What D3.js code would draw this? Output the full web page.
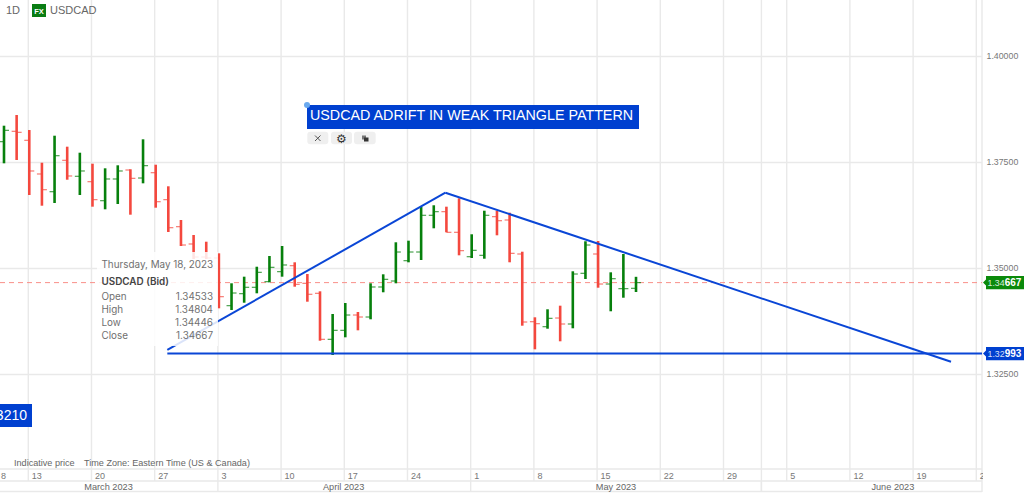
<!DOCTYPE html>
<html><head><meta charset="utf-8">
<script src="https://cdn.jsdelivr.net/npm/d3@7/dist/d3.min.js"></script>
<style>html,body{margin:0;padding:0;background:#fff;overflow:hidden}svg{display:block}</style>
</head><body><div id="chart"></div>
<script>
const open  = [1.37991,1.38236,1.38024,1.37229,1.36811,1.37552,1.37175,1.37047,1.36599,1.37111,1.37323,1.37134,1.37259,1.36623,1.35986,1.35578,1.35271,1.35248,1.34123,1.34406,1.34557,1.34689,1.34925,1.35066,1.34651,1.34415,1.33330,1.33542,1.33903,1.33856,1.34564,1.34705,1.35184,1.35389,1.36255,1.36340,1.35854,1.35278,1.35311,1.36222,1.36144,1.35342,1.33745,1.33627,1.33832,1.33691,1.34887,1.35342,1.34634,1.34524,1.34533];
const high  = [1.38368,1.38620,1.38266,1.37495,1.38132,1.37873,1.37731,1.37472,1.37363,1.37434,1.37340,1.38047,1.37448,1.36939,1.36144,1.35790,1.35632,1.35358,1.34651,1.34807,1.35042,1.35295,1.35531,1.35146,1.34870,1.34462,1.33927,1.34186,1.33974,1.34651,1.34863,1.35618,1.35656,1.36458,1.36491,1.36458,1.36656,1.35807,1.36363,1.36363,1.36316,1.35396,1.33849,1.34038,1.34123,1.34934,1.35642,1.35649,1.34910,1.35342,1.34804];
const low   = [1.37481,1.37559,1.36733,1.36481,1.36545,1.37094,1.36733,1.36458,1.36396,1.36521,1.36269,1.37009,1.36434,1.35861,1.35531,1.35224,1.35224,1.34061,1.34021,1.34193,1.34415,1.34675,1.34807,1.34571,1.34217,1.33297,1.32960,1.33377,1.33542,1.33802,1.34439,1.34651,1.35146,1.35200,1.35948,1.35854,1.35311,1.35248,1.35231,1.35783,1.35146,1.33651,1.33094,1.33580,1.33283,1.33590,1.34752,1.34547,1.33991,1.34311,1.34446];
const close = [1.38259,1.38212,1.37300,1.36858,1.37660,1.37182,1.37300,1.36623,1.37111,1.37300,1.37127,1.37425,1.36575,1.35962,1.35554,1.35271,1.35248,1.34335,1.34422,1.34557,1.34910,1.35028,1.35083,1.34627,1.34392,1.33330,1.33542,1.33903,1.33856,1.34564,1.34745,1.35389,1.35389,1.36255,1.36340,1.35854,1.35420,1.35429,1.36255,1.36127,1.35358,1.33738,1.33698,1.33825,1.33691,1.34870,1.35554,1.34634,1.34759,1.34524,1.34667];

const priceTicks = [1.325,1.35,1.375,1.4];
const weekIndex  = [2,7,12,17,22,27,32,37,42,47,52,57,62,67,72,77];
const weekLabels = ["13","20","27","3","10","17","24","1","8","15","22","29","5","12","19","26"];
const monthIndex = [17,37,60];
const monthLabels = ["March 2023","April 2023","May 2023","June 2023"];
const monthCentres = [8.35,26.95,48.5,70.4];

const riseLine = [[13,1.33078],[35,1.36788]];
const fallLine = [[35,1.36788],[75,1.32802]];
const lastClose = 1.34667;
const support = 1.32993;
const tooltipRows = [["Open","1.34533"],["High","1.34804"],["Low","1.34446"],["Close","1.34667"]];

const W=1024,H=493,plotR=982,plotB=469;
const x=d3.scaleLinear().domain([0,77]).range([3,976.3]);
const y=d3.scaleLinear().domain([1.325,1.4]).range([374.5,56.5]);
const GRID="#e9e9e9",RED="#f4483e",GREEN="#07800c",BLUE="#0a46d6",TAG="#0040d0";
const SANS="'Liberation Sans',Arial,sans-serif",INTER="Inter,sans-serif";
const svg=d3.select("#chart").append("svg").attr("width",W).attr("height",H);
svg.append("defs").append("clipPath").attr("id","axisClip").append("rect").attr("x",0).attr("y",465).attr("width",plotR+1).attr("height",30);

const grid=svg.append("g").attr("stroke",GRID).attr("stroke-width",1.4);
grid.selectAll(".v").data(weekIndex).join("line").attr("x1",d=>x(d)).attr("x2",d=>x(d)).attr("y1",0).attr("y2",481);
grid.append("line").attr("x1",x(60)).attr("x2",x(60)).attr("y1",0).attr("y2",491);
grid.selectAll(".h").data(priceTicks).join("line").attr("x1",0).attr("x2",plotR).attr("y1",d=>y(d)).attr("y2",d=>y(d));
grid.append("line").attr("x1",0).attr("x2",plotR).attr("y1",plotB).attr("y2",plotB);
grid.append("line").attr("x1",0).attr("x2",plotR).attr("y1",481).attr("y2",481);
grid.append("line").attr("x1",0).attr("x2",plotR).attr("y1",491.5).attr("y2",491.5);
grid.append("line").attr("x1",plotR).attr("x2",plotR).attr("y1",0).attr("y2",492);
grid.selectAll(".m").data(monthIndex).join("line").attr("x1",d=>x(d)).attr("x2",d=>x(d)).attr("y1",481).attr("y2",491);

svg.append("line").attr("x1",0).attr("x2",plotR).attr("y1",y(lastClose)).attr("y2",y(lastClose))
  .attr("stroke","#f98f88").attr("stroke-width",1).attr("stroke-dasharray","5,4");

const bars=svg.append("g").selectAll("g").data(d3.range(open.length)).join("g")
  .attr("stroke",i=>close[i]>=open[i]?GREEN:RED);
bars.append("line").attr("x1",i=>x(i)+1).attr("x2",i=>x(i)+1).attr("y1",i=>y(high[i])).attr("y2",i=>y(low[i])).attr("stroke-width",2.6);
bars.append("line").attr("x1",i=>x(i)-4).attr("x2",i=>x(i)+1).attr("y1",i=>y(open[i])).attr("y2",i=>y(open[i])).attr("stroke-width",1.1).attr("stroke-opacity",.8);
bars.append("line").attr("x1",i=>x(i)+1).attr("x2",i=>x(i)+6).attr("y1",i=>y(close[i])).attr("y2",i=>y(close[i])).attr("stroke-width",1.1).attr("stroke-opacity",.8);

const lineGen=d3.line().x(d=>x(d[0])).y(d=>y(d[1]));
const trends=svg.append("g").attr("fill","none").attr("stroke",BLUE).attr("stroke-width",2);
trends.append("path").attr("d",lineGen(riseLine));
trends.append("path").attr("d",lineGen(fallLine));
trends.append("line").attr("x1",x(13)).attr("x2",plotR).attr("y1",y(support)).attr("y2",y(support));

const tip=svg.append("g");
tip.append("rect").attr("x",97).attr("y",252).attr("width",121).attr("height",94).attr("fill","#fff").attr("fill-opacity",.85);
const tipText=(t,px,py,o={})=>tip.append("text").attr("x",px).attr("y",py).text(t).attr("font-family",INTER)
  .attr("font-size",9.9).attr("fill",o.fill||"#707070").attr("font-weight",o.w||400).attr("text-anchor",o.a||"start");
tipText("Thursday, May 18, 2023",101.5,268.3);
tipText("USDCAD (Bid)",101.5,285,{w:600,fill:"#444"});
tooltipRows.forEach((r,k)=>{const py=300.3+13*k;tipText(r[0],101.5,py);tipText(r[1],213,py,{a:"end"});});

const axisY=d3.axisRight(y).tickValues(priceTicks).tickSize(0).tickPadding(0).tickFormat(d3.format(".5f"));
const gy=svg.append("g").attr("transform","translate(986.5,-1)").call(axisY);
gy.select(".domain").remove();
gy.selectAll("text").attr("font-family",SANS).attr("font-size",8.8).attr("fill","#777");

const axisX=d3.axisBottom(x).tickValues(weekIndex).tickFormat((d,k)=>weekLabels[k]).tickSize(0).tickPadding(0);
const gx=svg.append("g").attr("clip-path","url(#axisClip)").append("g").attr("transform","translate(0,470)").call(axisX);
gx.select(".domain").remove();
gx.selectAll("text").attr("font-family",SANS).attr("font-size",9).attr("fill","#777").attr("text-anchor","start").attr("dx",3).attr("y",0).attr("dy","8.5");
svg.append("text").attr("x",1).attr("y",478.5).text("8").attr("font-family",SANS).attr("font-size",9).attr("fill","#777");

svg.append("g").selectAll("text").data(monthLabels).join("text").attr("x",(d,k)=>x(monthCentres[k])).attr("y",490)
  .text(d=>d).attr("text-anchor","middle").attr("font-family",SANS).attr("font-size",9.2).attr("fill","#666");

const plain=(t,px,py,fs,fill,f=SANS)=>svg.append("text").attr("x",px).attr("y",py).text(t).attr("font-size",fs).attr("fill",fill).attr("font-family",f);
plain("Indicative price",14,466,9.1,"#666");
plain("Time Zone: Eastern Time (US & Canada)",84,466,9.1,"#666");
plain("1D",6,14,11,"#666");
svg.append("rect").attr("x",32).attr("y",4).attr("width",14).attr("height",13).attr("fill","#0a7d14");
svg.append("text").attr("x",39).attr("y",13.5).attr("text-anchor","middle").text("FX").attr("font-family",SANS).attr("font-size",7.5).attr("font-weight",700).attr("fill","#fff");
plain("USDCAD",50,14,11,"#666");

svg.append("rect").attr("x",307).attr("y",105).attr("width",332).attr("height",24).attr("fill",TAG);
plain("USDCAD ADRIFT IN WEAK TRIANGLE PATTERN",310,120,14.3,"#fff");
svg.append("circle").attr("cx",307).attr("cy",105).attr("r",3).attr("fill","#6aa9ee");
[[307.3,21],[331,21],[354,21.7]].forEach(b=>svg.append("rect").attr("x",b[0]).attr("y",131.7).attr("width",b[1]).attr("height",12.6).attr("rx",3).attr("fill","#efefef"));
svg.append("path").attr("d","M315,135.5l5.5,5.5M320.5,135.5l-5.5,5.5").attr("stroke","#555").attr("stroke-width",1).attr("fill","none");
svg.append("text").attr("x",341.5).attr("y",142.5).attr("text-anchor","middle").text("\u2699").attr("font-family","'DejaVu Sans'").attr("font-size",12).attr("fill","#333");
svg.append("rect").attr("x",362).attr("y",135.5).attr("width",4).attr("height",4).attr("fill","#777");
svg.append("rect").attr("x",364).attr("y",137.5).attr("width",4.5).attr("height",4).attr("fill","#333");

svg.append("rect").attr("x",0).attr("y",404).attr("width",32).attr("height",23).attr("fill",TAG);
svg.append("text").attr("x",27).attr("y",420).attr("text-anchor","end").text("3210").attr("font-family",SANS).attr("font-size",14).attr("fill","#fff");

function tag(v,color){
  const cy=y(v),s=d3.format(".5f")(v);
  svg.append("path").attr("d",`M983,${cy}L986,${cy-3}V${cy-6.7}H1024V${cy+6.7}H986V${cy+3}Z`).attr("fill",color);
  const t=svg.append("text").attr("x",987.5).attr("y",cy+3.5).attr("font-family",SANS).attr("fill","#fff");
  t.append("tspan").attr("font-size",8.8).attr("fill-opacity",.85).text(s.slice(0,4));
  t.append("tspan").attr("font-size",10).attr("font-weight",700).text(s.slice(4));
}
tag(lastClose,"#0b8a0b");
tag(support,TAG);
</script></body></html>
